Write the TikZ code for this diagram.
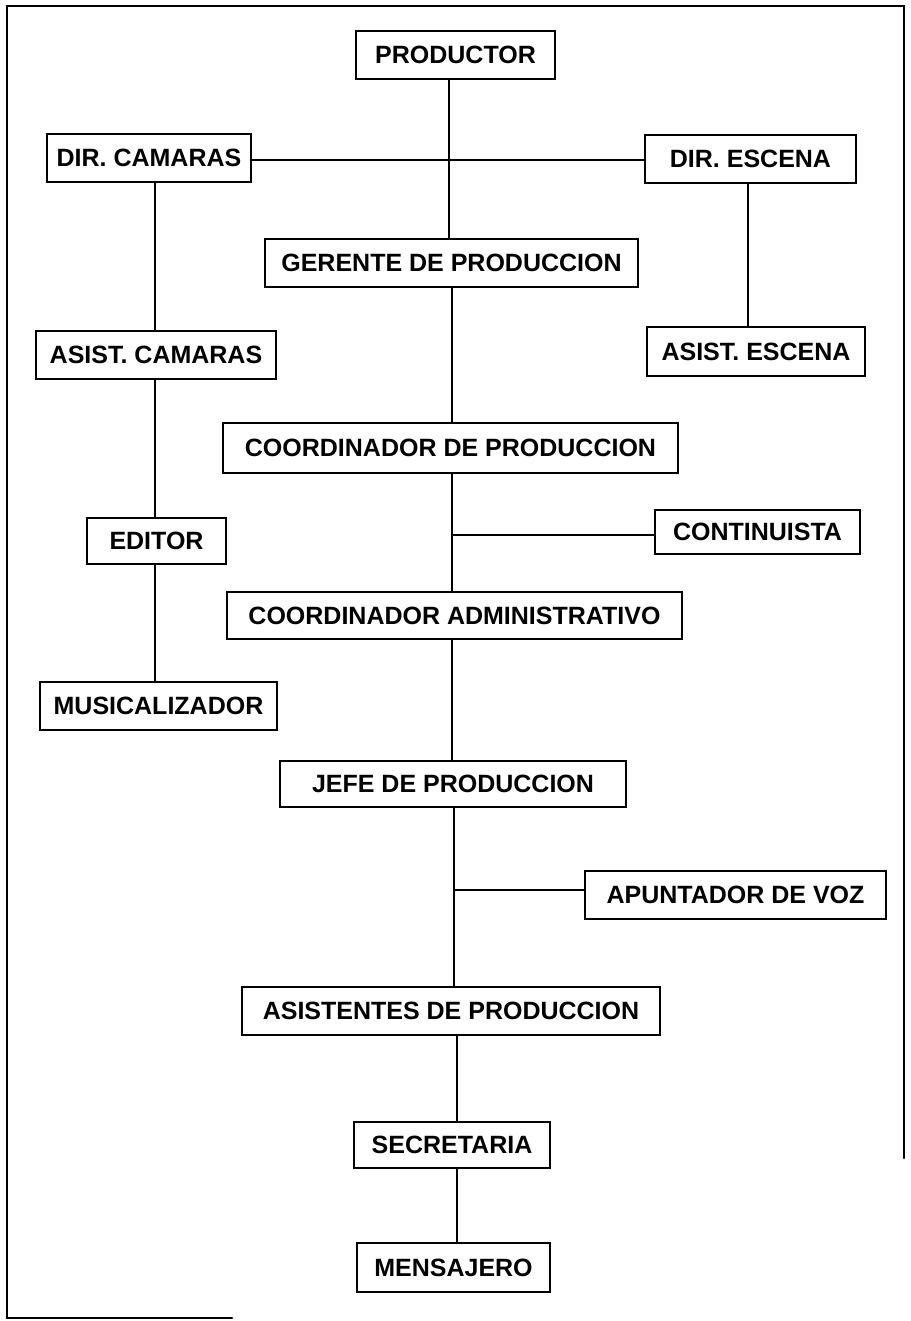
\documentclass[tikz,border=0pt]{standalone}
\usepackage{fontspec}
\setmainfont{Liberation Sans}
\begin{document}
\begin{tikzpicture}[x=1pt,y=-1pt,
  box/.style={draw=black,line width=2.5pt,rectangle,inner sep=0pt,font=\bfseries\fontsize{25}{30}\selectfont,text=black},
  link/.style={draw=black,line width=2.2pt},
  frame/.style={draw=black,line width=2.5pt,line cap=round}]
\useasboundingbox (0,0) rectangle (910,1321);
% frame
\coordinate (ftr) at (904,1158);
\coordinate (fbr) at (232,1318);
\draw[frame] (ftr) -- (904,6) -- (7,6) -- (7,1318) -- (fbr);
% nodes
\node[box,minimum width=199pt,minimum height=48pt] (prod) at (455.5,55) {PRODUCTOR};
\node[box,minimum width=204pt,minimum height=48pt] (dcam) at (149,158) {DIR. CAMARAS};
\node[box,minimum width=211pt,minimum height=48pt] (desc) at (750.5,159) {DIR. ESCENA};
\node[box,minimum width=373pt,minimum height=48pt] (gp) at (451.5,263) {GERENTE DE PRODUCCION};
\node[box,minimum width=240pt,minimum height=48pt] (acam) at (156,355) {ASIST. CAMARAS};
\node[box,minimum width=218pt,minimum height=49pt] (aesc) at (756,351.5) {ASIST. ESCENA};
\node[box,minimum width=455pt,minimum height=50pt] (cp) at (450.5,448) {COORDINADOR DE PRODUCCION};
\node[box,minimum width=139pt,minimum height=46pt] (ed) at (156.5,541) {EDITOR};
\node[box,minimum width=205pt,minimum height=44pt] (cont) at (757.5,532) {CONTINUISTA};
\node[box,minimum width=455pt,minimum height=47pt] (ca) at (454.5,615.5) {COORDINADOR ADMINISTRATIVO};
\node[box,minimum width=237pt,minimum height=48pt] (mus) at (158.5,706) {MUSICALIZADOR};
\node[box,minimum width=346pt,minimum height=46pt] (jefe) at (453,784) {JEFE DE PRODUCCION};
\node[box,minimum width=301pt,minimum height=48pt] (apu) at (735.5,895) {APUNTADOR DE VOZ};
\node[box,minimum width=418pt,minimum height=48pt] (asis) at (451,1011) {ASISTENTES DE PRODUCCION};
\node[box,minimum width=196pt,minimum height=46pt] (sec) at (452,1145) {SECRETARIA};
\node[box,minimum width=193pt,minimum height=49pt] (men) at (453.5,1267.5) {MENSAJERO};
% spine coordinates
\coordinate (sA) at (449,0);
\coordinate (sB) at (452,0);
\coordinate (sC) at (454,0);
\coordinate (sD) at (457,0);
\coordinate (sL) at (155,0);
\coordinate (sR) at (748,0);
\coordinate (hC) at (0,535);
\coordinate (hA) at (0,890);
% connectors
\draw[link] (prod.south -| sA) -- (gp.north -| sA);
\draw[link] (dcam.east |- 0,160) -- (desc.west |- 0,160);
\draw[link] (gp.south -| sB) -- (cp.north -| sB);
\draw[link] (cp.south -| sB) -- (ca.north -| sB);
\draw[link] (ca.south -| sB) -- (jefe.north -| sB);
\draw[link] (jefe.south -| sC) -- (asis.north -| sC);
\draw[link] (asis.south -| sD) -- (sec.north -| sD);
\draw[link] (sec.south -| sD) -- (men.north -| sD);
\draw[link] (sB |- hC) -- (cont.west |- hC);
\draw[link] (sC |- hA) -- (apu.west |- hA);
\draw[link] (dcam.south -| sL) -- (acam.north -| sL);
\draw[link] (acam.south -| sL) -- (ed.north -| sL);
\draw[link] (ed.south -| sL) -- (mus.north -| sL);
\draw[link] (desc.south -| sR) -- (aesc.north -| sR);
\end{tikzpicture}
\end{document}
